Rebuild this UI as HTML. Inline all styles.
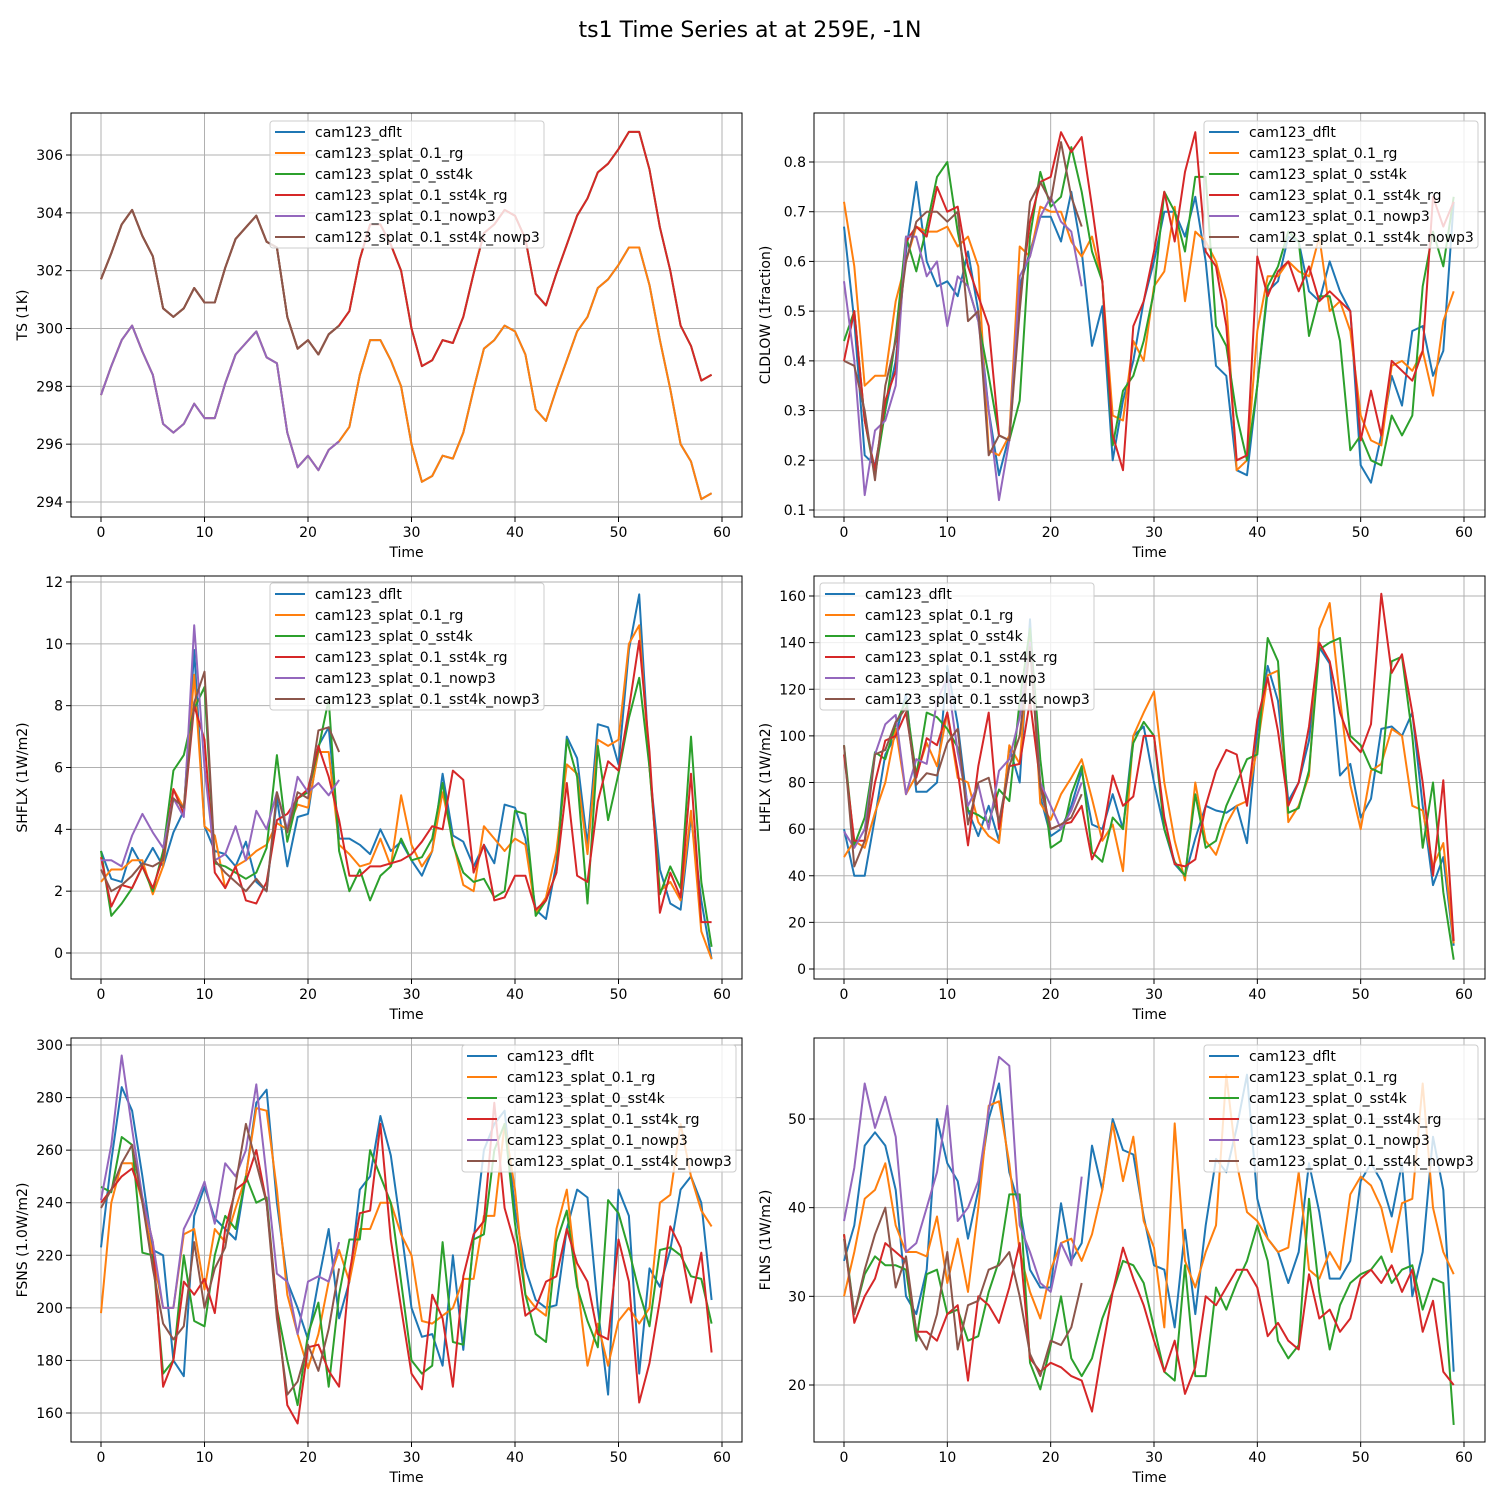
<!DOCTYPE html>
<html><head><meta charset="utf-8"><style>
body{margin:0;background:#fff}
svg{display:block;font-family:"DejaVu Sans","Liberation Sans",sans-serif}
</style></head><body>
<svg id="fig" width="1500" height="1500" xmlns="http://www.w3.org/2000/svg">
<rect width="1500" height="1500" fill="#fff"/>
<text x="750" y="37" font-size="22" text-anchor="middle">ts1 Time Series at at 259E, -1N</text>
</svg>
<script>
const seriesNames=["cam123_dflt","cam123_splat_0.1_rg","cam123_splat_0_sst4k","cam123_splat_0.1_sst4k_rg","cam123_splat_0.1_nowp3","cam123_splat_0.1_sst4k_nowp3"];
const colors=["#1f77b4","#ff7f0e","#2ca02c","#d62728","#9467bd","#8c564b"];
const xTicks=[0,10,20,30,40,50,60];

const tsBase=[297.7,298.7,299.6,300.1,299.2,298.4,296.7,296.4,296.7,297.4,296.9,296.9,298.1,299.1,299.5,299.9,299.0,298.8,296.4,295.2,295.6,295.1,295.8,296.1,296.6,298.4,299.6,299.6,298.9,298.0,296.0,294.7,294.9,295.6,295.5,296.4,297.9,299.3,299.6,300.1,299.9,299.1,297.2,296.8,297.9,298.9,299.9,300.4,301.4,301.7,302.2,302.8,302.8,301.5,299.6,297.9,296.0,295.4,294.1,294.3];
const tsWarm=[301.7,302.6,303.6,304.1,303.2,302.5,300.7,300.4,300.7,301.4,300.9,300.9,302.1,303.1,303.5,303.9,303.0,302.8,300.4,299.3,299.6,299.1,299.8,300.1,300.6,302.4,303.6,303.6,302.9,302.0,300.0,298.7,298.9,299.6,299.5,300.4,301.9,303.3,303.6,304.1,303.9,303.1,301.2,300.8,301.9,302.9,303.9,304.5,305.4,305.7,306.2,306.8,306.8,305.5,303.5,302.0,300.1,299.4,298.2,298.4];
const ts_np=[297.7,298.7,299.6,300.1,299.2,298.4,296.7,296.4,296.7,297.4,296.9,296.9,298.1,299.1,299.5,299.9,299.0,298.8,296.4,295.2,295.6,295.1,295.8,296.1];
const ts_s4np=[301.7,302.6,303.6,304.1,303.2,302.5,300.7,300.4,300.7,301.4,300.9,300.9,302.1,303.1,303.5,303.9,303.0,302.8,300.4,299.3,299.6,299.1,299.8,300.1];

const cld_dflt=[0.67,0.48,0.21,0.19,0.30,0.40,0.62,0.76,0.60,0.55,0.56,0.53,0.62,0.50,0.30,0.17,0.25,0.55,0.62,0.69,0.69,0.64,0.74,0.62,0.43,0.51,0.20,0.32,0.40,0.52,0.60,0.70,0.70,0.65,0.73,0.60,0.39,0.37,0.18,0.17,0.35,0.54,0.56,0.65,0.64,0.54,0.52,0.60,0.54,0.50,0.19,0.155,0.25,0.37,0.31,0.46,0.47,0.37,0.42,0.72];
const cld_rg=[0.72,0.59,0.35,0.37,0.37,0.52,0.60,0.67,0.66,0.66,0.67,0.63,0.65,0.59,0.22,0.21,0.25,0.63,0.61,0.71,0.70,0.70,0.64,0.61,0.65,0.56,0.29,0.28,0.44,0.40,0.55,0.58,0.71,0.52,0.66,0.64,0.60,0.52,0.18,0.20,0.46,0.57,0.57,0.60,0.58,0.57,0.65,0.50,0.52,0.46,0.29,0.24,0.23,0.39,0.40,0.38,0.42,0.33,0.48,0.54];
const cld_s0=[0.44,0.50,0.28,0.17,0.30,0.45,0.65,0.58,0.67,0.77,0.80,0.66,0.55,0.48,0.37,0.25,0.24,0.32,0.65,0.78,0.71,0.73,0.83,0.74,0.62,0.56,0.23,0.34,0.37,0.44,0.54,0.74,0.70,0.62,0.77,0.77,0.47,0.43,0.29,0.20,0.35,0.55,0.59,0.66,0.64,0.45,0.53,0.53,0.44,0.22,0.25,0.20,0.19,0.29,0.25,0.29,0.55,0.66,0.59,0.73];
const cld_s4=[0.40,0.50,0.28,0.18,0.32,0.38,0.64,0.67,0.65,0.75,0.70,0.71,0.59,0.53,0.47,0.25,0.24,0.52,0.68,0.76,0.77,0.86,0.82,0.85,0.71,0.56,0.25,0.18,0.47,0.52,0.62,0.74,0.64,0.78,0.86,0.62,0.59,0.47,0.20,0.21,0.61,0.53,0.58,0.60,0.54,0.59,0.52,0.54,0.52,0.50,0.24,0.34,0.25,0.40,0.38,0.36,0.42,0.73,0.67,0.72];
const cld_np=[0.56,0.40,0.13,0.26,0.28,0.35,0.65,0.65,0.57,0.60,0.47,0.57,0.55,0.48,0.30,0.12,0.24,0.57,0.61,0.69,0.73,0.68,0.66,0.55];
const cld_s4np=[0.40,0.39,0.30,0.16,0.35,0.44,0.60,0.68,0.70,0.70,0.68,0.70,0.48,0.50,0.21,0.25,0.24,0.50,0.72,0.76,0.72,0.84,0.73,0.67];

const sh_dflt=[3.3,2.4,2.3,3.4,2.8,3.4,2.8,3.9,4.6,9.8,4.1,3.3,3.2,2.8,3.6,2.3,2.0,5.0,2.8,4.4,4.5,6.7,7.3,3.7,3.7,3.5,3.2,4.0,3.3,3.6,3.0,2.5,3.3,5.8,3.8,3.6,2.8,3.5,2.9,4.8,4.7,3.7,1.4,1.1,2.9,7.0,6.3,3.5,7.4,7.3,6.1,9.8,11.6,6.0,2.7,1.6,1.4,4.4,1.7,-0.2];
const sh_rg=[2.3,2.7,2.7,3.0,3.0,1.9,2.8,5.3,4.7,9.0,4.1,3.8,2.1,2.8,3.0,3.3,3.5,4.2,4.0,4.8,4.7,6.5,6.5,3.5,3.2,2.8,2.9,3.7,2.8,5.1,3.5,2.8,3.3,5.2,3.6,2.2,2.0,4.1,3.7,3.3,3.7,3.5,1.3,1.8,3.3,6.1,5.8,3.2,6.9,6.7,6.9,10.0,10.6,6.0,2.0,2.3,1.7,4.6,0.7,-0.2];
const sh_s0=[3.3,1.2,1.6,2.1,2.8,2.0,3.3,5.9,6.4,7.9,8.6,2.9,2.8,2.6,2.4,2.6,3.4,6.4,3.6,5.0,5.2,6.6,8.2,3.3,2.0,2.7,1.7,2.5,2.8,3.7,3.0,3.1,3.7,5.5,3.5,2.6,2.3,2.4,1.8,2.0,4.6,4.5,1.2,1.7,2.6,6.9,5.7,1.6,6.7,4.3,5.8,7.6,8.9,6.0,1.9,2.8,2.1,7.0,2.3,0.2];
const sh_s4=[3.1,1.5,2.2,2.1,2.8,2.1,3.1,5.3,4.5,8.0,6.9,2.6,2.1,2.8,1.7,1.6,2.3,4.3,4.5,5.0,5.3,6.7,5.7,4.3,2.5,2.5,2.8,2.8,2.9,3.0,3.2,3.6,4.1,4.0,5.9,5.6,2.6,3.5,1.7,1.8,2.5,2.5,1.4,1.7,2.6,5.5,2.5,2.3,4.9,6.2,5.9,7.9,10.1,6.5,1.3,2.6,1.8,5.8,1.0,1.0];
const sh_np=[3.0,3.0,2.8,3.8,4.5,3.9,3.4,5.0,4.4,10.6,6.0,3.0,3.2,4.1,3.0,4.6,4.0,5.2,4.0,5.7,5.2,5.5,5.1,5.6];
const sh_s4np=[2.7,2.0,2.2,2.5,2.9,2.8,3.0,5.0,4.7,8.1,9.1,3.0,2.6,2.3,2.0,2.4,2.0,5.2,3.9,5.2,5.0,7.2,7.3,6.5];

const lh_dflt=[60,40,40,65,92,100,118,76,76,80,130,105,68,57,70,55,95,80,150,74,57,60,70,85,62,60,75,60,100,104,80,60,45,40,56,70,68,67,70,54,102,130,115,72,80,98,138,131,83,88,65,73,103,104,100,110,70,36,48,10];
const lh_rg=[48,55,52,67,80,103,75,83,97,87,110,82,80,63,57,54,96,88,145,71,64,75,82,90,73,55,62,42,100,110,119,80,55,38,80,55,49,62,70,72,95,126,128,63,70,83,146,157,116,79,60,85,88,103,100,70,68,44,54,11];
const lh_s0=[96,53,65,93,90,105,115,83,110,108,103,95,68,66,63,77,72,115,146,90,52,55,75,87,50,46,65,60,97,106,100,60,46,40,75,52,55,70,80,90,92,142,132,67,69,85,137,140,142,100,96,86,84,132,134,100,52,80,33,4];
const lh_s4=[92,55,55,80,98,100,110,82,99,96,110,85,53,87,110,60,87,88,115,80,60,62,63,70,47,57,83,70,74,100,100,65,45,44,47,70,85,94,92,70,107,125,102,70,80,104,140,132,110,98,93,105,161,127,135,110,80,40,81,12];
const lh_np=[59,52,60,92,105,109,75,90,88,115,125,93,70,79,60,85,90,108,140,80,70,60,68,80];
const lh_s4np=[96,44,55,92,94,106,112,79,84,83,97,103,62,80,82,63,87,100,138,78,60,62,65,75];

const fs_dflt=[223,256,284,275,250,222,220,180,174,235,246,234,230,226,250,278,283,240,210,200,188,210,230,196,210,245,250,273,258,230,200,189,190,178,220,184,226,260,270,275,237,215,203,200,201,230,245,242,200,167,245,235,175,215,208,222,245,250,240,203];
const fs_rg=[198,240,255,255,240,220,200,200,228,230,207,230,225,238,250,276,275,245,205,190,177,190,210,222,210,230,230,240,240,228,220,195,194,197,200,211,211,235,235,270,245,205,200,197,230,245,210,178,194,178,195,200,194,200,240,243,270,250,237,231];
const fs_s0=[246,244,265,262,221,220,175,180,220,195,193,220,235,230,250,240,242,200,180,163,190,202,170,205,226,226,260,250,240,210,180,175,178,225,187,186,226,228,260,270,232,205,190,187,225,237,208,195,185,241,236,222,206,193,222,223,220,212,211,194];
const fs_s4=[240,245,250,253,242,225,170,180,210,205,211,198,230,245,248,260,240,200,163,156,185,186,176,170,213,236,237,270,226,200,175,169,205,196,170,212,228,233,278,238,224,197,200,210,212,230,217,210,190,188,226,210,164,179,203,231,223,202,221,183];
const fs_np=[241,262,296,268,242,225,200,200,230,238,248,232,255,250,260,285,250,213,210,190,210,212,210,225];
const fs_s4np=[238,245,255,262,240,215,194,188,193,225,200,215,223,247,270,255,240,196,167,172,186,176,192,215];

const fl_dflt=[34,38,47,48.5,47,42,30,28,33,50,45,43,36.5,42,50,54,44,40,33,31,31,40.5,34,36,47,42,50,46.5,46,39,33.5,33,26.5,37.5,28,38,45.5,44,49,55,41,36.5,35,31.5,35,45,39.5,32,32,34,43,45,43,39,45,30,35,48,42,21.5];
const fl_rg=[30,35,41,42,45,38,35,35,34.5,39,31.5,36.5,30.5,40,51.5,52,45,35,30.5,27.5,33,36,36.5,34,37,42,49.5,43,48,38.5,35.5,26.5,49.5,34,31,35,38,55,45,39.5,38.5,36.5,35,35.5,44,33,32,35,33,41.5,43.5,42.5,40,35,40.5,41,54,40,35,32.5];
const fl_s0=[37,28,32.5,34.5,33.5,33.5,33,25,32.5,33,28,28.5,25,25.5,30.5,34,41.5,41.5,22.5,19.5,24.5,30,23,21,23,27.5,30.5,34,33.5,31.5,26.5,21.5,20.5,33.5,21,21,31,28.5,31.5,34,38,34,25,23,24.5,41,30.5,24,29,31.5,32.5,33,34.5,31.5,33,33.5,28.5,32,31.5,15.5];
const fl_s4=[37,27,30,32,36,35,34,26,26,25,28,29,20.5,30,29,27,31,36,23,21.5,22.5,22,21,20.5,17,24,30.5,35.5,32,29,25,21.5,25,19,22,30,29,31,33,33,31,25.5,27,25,24,32.5,27.5,28.5,26,27.5,32,33,31.5,33.5,30.5,33,26,29.5,21.5,20];
const fl_np=[38.5,44.5,54,49,52.5,48,35,36,40,44,51.5,38.5,40,43,51,57,56,38,35,31.5,30.5,36,33.5,43.5];
const fl_s4np=[36.5,28,33,37,40,31,34.5,26,24,28,35,24,29,29.5,33,33.5,35,30,23.5,21,25,24.5,26.5,31.5];

const tsTicks=[294,296,298,300,302,304,306];
const cldTicks=[0.1,0.2,0.3,0.4,0.5,0.6,0.7,0.8];
const shTicks=[0,2,4,6,8,10,12];
const lhTicks=[0,20,40,60,80,100,120,140,160];
const fsTicks=[160,180,200,220,240,260,280,300];
const flTicks=[20,30,40,50];

const panels=[
 {name:"ts",label:"TS (1K)",box:[71,113,742,517],x0:101,x60:722,yA:[294,502],yB:[306,155],ticks:tsTicks,fmt:v=>v,series:[tsBase,tsBase,tsWarm,tsWarm,ts_np,ts_s4np],leg:[270,121]},
 {name:"cldlow",label:"CLDLOW (1fraction)",box:[814,113,1485,517],x0:844,x60:1464,yA:[0.1,510],yB:[0.8,162],ticks:cldTicks,fmt:v=>v.toFixed(1),series:[cld_dflt,cld_rg,cld_s0,cld_s4,cld_np,cld_s4np],leg:[1204,121]},
 {name:"shflx",label:"SHFLX (1W/m2)",box:[71,576,742,979],x0:101,x60:722,yA:[0,953],yB:[12,582],ticks:shTicks,fmt:v=>v,series:[sh_dflt,sh_rg,sh_s0,sh_s4,sh_np,sh_s4np],leg:[270,583]},
 {name:"lhflx",label:"LHFLX (1W/m2)",box:[814,576,1485,979],x0:844,x60:1464,yA:[0,969],yB:[160,596],ticks:lhTicks,fmt:v=>v,series:[lh_dflt,lh_rg,lh_s0,lh_s4,lh_np,lh_s4np],leg:[820,583]},
 {name:"fsns",label:"FSNS (1.0W/m2)",box:[71,1038,742,1442],x0:101,x60:722,yA:[160,1413],yB:[300,1045],ticks:fsTicks,fmt:v=>v,series:[fs_dflt,fs_rg,fs_s0,fs_s4,fs_np,fs_s4np],leg:[462,1045]},
 {name:"flns",label:"FLNS (1W/m2)",box:[814,1038,1485,1442],x0:844,x60:1464,yA:[20,1385],yB:[50,1119],ticks:flTicks,fmt:v=>v,series:[fl_dflt,fl_rg,fl_s0,fl_s4,fl_np,fl_s4np],leg:[1204,1045]}
];
const NS="http://www.w3.org/2000/svg";
const svg=document.getElementById("fig");
function mk(tag,attrs,parent){const e=document.createElementNS(NS,tag);for(const k in attrs)e.setAttribute(k,attrs[k]);parent.appendChild(e);return e;}
panels.forEach(p=>{
 const g=mk("g",{},svg);
 
 
 const [L,T,R,B]=p.box;
 const xs=v=>p.x0+(p.x60-p.x0)*v/60;
 const ys=v=>p.yA[1]+(p.yB[1]-p.yA[1])*(v-p.yA[0])/(p.yB[0]-p.yA[0]);
 xTicks.forEach(t=>{const x=xs(t);
  mk("line",{x1:x,x2:x,y1:T,y2:B,stroke:"#b0b0b0","stroke-width":1},g);
  mk("line",{x1:x,x2:x,y1:B,y2:B+5,stroke:"#000"},g);
  const tx=mk("text",{x:x,y:B+20,"font-size":14,"text-anchor":"middle"},g);tx.textContent=t;
  
  
 });
 p.ticks.forEach(t=>{const y=ys(t);
  mk("line",{x1:L,x2:R,y1:y,y2:y,stroke:"#b0b0b0","stroke-width":1},g);
  mk("line",{x1:L-5,x2:L,y1:y,y2:y,stroke:"#000"},g);
  const tx=mk("text",{x:L-8,y:y+5,"font-size":14,"text-anchor":"end"},g);tx.textContent=p.fmt(t);
  
  
 });
 const clip=mk("clipPath",{id:"c"+p.name},g);mk("rect",{x:L,y:T,width:R-L,height:B-T},clip);
 p.series.forEach((s,i)=>{
  const d=s.map((v,j)=>(j?"L":"M")+xs(j).toFixed(1)+","+ys(v).toFixed(1)).join("");
  const pl=mk("path",{d:d,fill:"none",stroke:colors[i],"stroke-width":2,"stroke-linejoin":"round","clip-path":"url(#c"+p.name+")"},g);
  
  
 });
 mk("rect",{x:L,y:T,width:R-L,height:B-T,fill:"none",stroke:"#000","stroke-width":1},g);
 const xl=mk("text",{x:(L+R)/2,y:B+40,"font-size":14,"text-anchor":"middle"},g);xl.textContent="Time";
 
 
 const lx=L-44,ly=(T+B)/2;
 const yl=mk("text",{x:lx,y:ly,"font-size":14,"text-anchor":"middle",transform:`rotate(-90 ${lx} ${ly})`},g);yl.textContent=p.label;
 
 
 const lg=mk("g",{},g);
 
 
 const [gx,gy]=p.leg;
 mk("rect",{x:gx,y:gy,width:274,height:127,rx:3,fill:"#fff","fill-opacity":0.8,stroke:"#ccc"},lg);
 seriesNames.forEach((n,i)=>{const y=gy+11+i*21;
  mk("line",{x1:gx+5,x2:gx+35,y1:y,y2:y,stroke:colors[i],"stroke-width":2},lg);
  const t=mk("text",{x:gx+45,y:y+5,"font-size":14},lg);t.textContent=n;
  
  
 });
});
</script>
</body></html>
